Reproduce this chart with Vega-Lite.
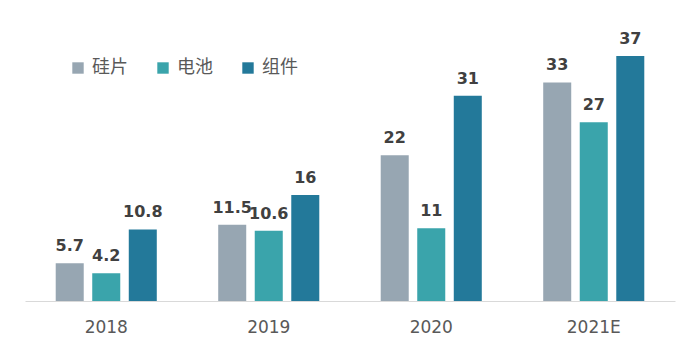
{
  "$schema": "https://vega.github.io/schema/vega-lite/v6.json",
  "width": 650,
  "height": 265,
  "autosize": "none",
  "padding": {"left": 25, "top": 36, "right": 11, "bottom": 51},
  "background": "white",
  "config": {"view": {"stroke": null}, "font": "DejaVu Sans"},
  "data": {
    "values": [
      {"year": "2018", "type": "硅片", "value": 5.7, "label": "5.7"},
      {"year": "2018", "type": "电池", "value": 4.2, "label": "4.2"},
      {"year": "2018", "type": "组件", "value": 10.8, "label": "10.8"},
      {"year": "2019", "type": "硅片", "value": 11.5, "label": "11.5"},
      {"year": "2019", "type": "电池", "value": 10.6, "label": "10.6"},
      {"year": "2019", "type": "组件", "value": 16, "label": "16"},
      {"year": "2020", "type": "硅片", "value": 22, "label": "22"},
      {"year": "2020", "type": "电池", "value": 11, "label": "11"},
      {"year": "2020", "type": "组件", "value": 31, "label": "31"},
      {"year": "2021E", "type": "硅片", "value": 33, "label": "33"},
      {"year": "2021E", "type": "电池", "value": 27, "label": "27"},
      {"year": "2021E", "type": "组件", "value": 37, "label": "37"}
    ]
  },
  "encoding": {
    "x": {
      "field": "year", "type": "nominal", "sort": null,
      "scale": {"paddingInner": 0.378, "paddingOuter": 0.189},
      "axis": {"title": null, "labelAngle": 0, "labelFontSize": 17, "labelColor": "#595959", "labelPadding": 18, "ticks": false, "domainColor": "#d9d9d9", "labelFont": "DejaVu Sans", "labelFontWeight": "normal"}
    },
    "xOffset": {"field": "type", "type": "nominal", "sort": ["硅片", "电池", "组件"], "scale": {"paddingInner": 0.233}},
    "y": {"field": "value", "type": "quantitative", "scale": {"domain": [0, 40]}, "axis": null}
  },
  "layer": [
    {
      "mark": {"type": "bar"},
      "encoding": {
        "color": {
          "field": "type", "type": "nominal", "sort": ["硅片", "电池", "组件"],
          "scale": {"domain": ["硅片", "电池", "组件"], "range": ["#97A6B2", "#3AA4AB", "#23799A"]},
          "legend": {
            "title": null, "orient": "none", "direction": "horizontal",
            "legendX": 44, "legendY": 23,
            "symbolType": "square", "symbolSize": 130, "symbolStrokeWidth": 0,
            "labelFontSize": 18, "labelColor": "#595959", "labelFont": "Noto Sans CJK SC",
            "labelOffset": 5, "columnPadding": 26
          }
        }
      }
    },
    {
      "mark": {"type": "text", "dy": -17, "fontSize": 16, "fontWeight": "bold", "color": "#404040", "font": "DejaVu Sans"},
      "encoding": {"text": {"field": "label"}}
    }
  ]
}
